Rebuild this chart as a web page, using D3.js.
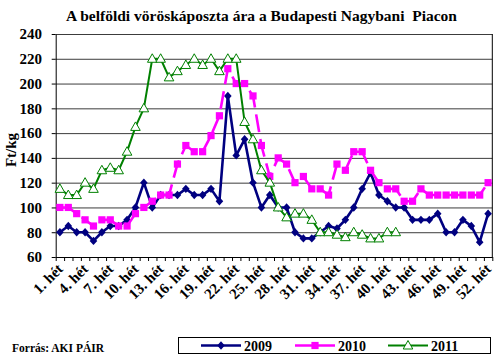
<!DOCTYPE html>
<html><head><meta charset="utf-8">
<script src="https://cdn.jsdelivr.net/npm/d3@7"></script>
<style>
html,body{margin:0;padding:0;background:#fff;}
svg{display:block;}
text{font-family:"Liberation Serif","Times New Roman",serif;font-weight:bold;fill:#000;}
</style>
</head><body>
<svg id="chart" width="500" height="357"></svg>
<script>
// ---- data ----
const weeks = d3.range(1, 53);
const xTickWeeks = [1,4,7,10,13,16,19,22,25,28,31,34,37,40,43,46,49,52];
const xTickLabels = ["1. hét","4. hét","7. hét","10. hét","13. hét","16. hét","19. hét","22. hét","25. hét","28. hét","31. hét","34. hét","37. hét","40. hét","43. hét","46. hét","49. hét","52. hét"];
const yTicks = [60,80,100,120,140,160,180,200,220,240];
const seriesNames = ["2009","2010","2011"];
const values2009 = [80,85,80,80,73,80,85,85,90,100,120,100,110,110,110,115,110,110,115,105,190,142,155,120,100,110,100,100,80,75,75,80,85,83,90,100,115,128,110,105,100,100,90,90,90,95,80,80,90,85,72,95];
const values2010 = [100,100,95,90,85,90,90,85,85,95,100,105,110,110,135,150,145,145,158,174,212,200,200,190,150,125,140,135,120,125,115,115,110,135,130,145,145,130,120,115,115,105,105,115,110,110,110,110,110,110,110,120];
const values2011 = [115,110,110,120,115,130,132,130,145,165,180,220,220,205,210,215,220,215,220,210,220,220,169,155,130,120,100,92,95,95,90,80,80,78,76,80,78,75,75,80,80,null,null,null,null,null,null,null,null,null,null,null];
const titleText = "A belföldi vöröskáposzta ára a Budapesti Nagybani  Piacon";
const yLabel = "Ft/kg";
const sourceText = "Forrás: AKI PÁIR";

// ---- layout ----
const svg = d3.select("#chart");
const M = {left:55.7, right:492.3, top:34, bottom:257};
const x = d3.scaleBand().domain(weeks).range([M.left, M.right]).padding(0);
const xEdge = d3.scaleLinear().domain([0, 52]).range([M.left, M.right]);
const y = d3.scaleLinear().domain([60, 240]).range([M.bottom, M.top]);
const cx = w => x(w) + x.bandwidth() / 2;
const FONT = '"Liberation Serif","Times New Roman",serif';

// title
svg.append("text").attr("x", 261.5).attr("y", 21).attr("text-anchor", "middle")
  .style("font-size", "15.5px").style("white-space","pre").text(titleText);

// gridlines
svg.append("g").attr("transform", `translate(${M.left},0)`)
  .call(d3.axisLeft(y).tickValues(yTicks).tickSize(-(M.right - M.left)).tickFormat(""))
  .call(g => g.select(".domain").remove())
  .call(g => g.selectAll("line").attr("stroke", "#3c3c3c"));

// right frame
svg.append("line").attr("x1", M.right).attr("x2", M.right).attr("y1", M.top).attr("y2", M.bottom)
  .attr("stroke", "#000");

// y axis
const yAx = svg.append("g").attr("transform", `translate(${M.left},0)`)
  .call(d3.axisLeft(y).tickValues(yTicks).tickSize(4).tickSizeOuter(0).tickPadding(9.7));
yAx.attr("font-family", FONT).attr("font-size", 15).attr("font-weight", "bold");
yAx.selectAll("line").attr("stroke", "#000");
yAx.select(".domain").attr("stroke", "#000");

// x axis (ticks at category boundaries)
const xAx = svg.append("g").attr("transform", `translate(0,${M.bottom})`)
  .call(d3.axisBottom(xEdge).tickValues(d3.range(0, 53)).tickSize(4).tickSizeOuter(0).tickFormat(""));
xAx.selectAll("line").attr("stroke", "#000");
xAx.select(".domain").attr("stroke", "#000");

// x labels
svg.append("g").selectAll("text").data(xTickWeeks).join("text")
  .attr("transform", (w) => `translate(${cx(w) + 4},${M.bottom + 13}) rotate(-45)`)
  .attr("text-anchor", "end").style("font-size", "15px")
  .text((w, i) => xTickLabels[i]);

// y label
svg.append("text").attr("transform", "translate(16,150) rotate(-90)")
  .attr("text-anchor", "middle").style("font-size", "15px").text(yLabel);

// series
const colors = {"2009":"#000080","2010":"#ff00ff","2011":"#008000"};
const lineGen = d3.line().defined(d => d.v != null).x(d => cx(d.w)).y(d => y(d.v));
const toPts = arr => weeks.map((w, i) => ({w, v: arr[i]}));

function marker(sel, name) {
  if (name === "2009") {
    sel.append("path").attr("d", "M0,-4.2L3.8,0L0,4.2L-3.8,0Z").attr("fill", colors[name]);
  } else if (name === "2010") {
    sel.append("rect").attr("x", -3.6).attr("y", -3.6).attr("width", 7.2).attr("height", 7.2).attr("fill", colors[name]);
  } else {
    sel.append("path").attr("d", "M0,-5L4.8,3.5L-4.8,3.5Z").attr("fill", "#fff").attr("stroke", colors[name]).attr("stroke-width", 1);
  }
}

const allSeries = [values2009, values2010, values2011];
allSeries.forEach((arr, si) => {
  const name = seriesNames[si];
  const pts = toPts(arr);
  const g = svg.append("g");
  g.append("path").attr("d", lineGen(pts)).attr("fill", "none")
    .attr("stroke", colors[name]).attr("stroke-width", name === "2011" ? 2 : 2.6)
    .attr("stroke-dasharray", name === "2010" ? "18,7" : null)
    .attr("stroke-linejoin", "round");
  pts.filter(d => d.v != null).forEach(d => {
    const m = g.append("g").attr("transform", `translate(${cx(d.w)},${y(d.v)})`);
    marker(m, name);
  });
});

// legend
const lg = svg.append("g");
lg.append("rect").attr("x", 178.5).attr("y", 337.5).attr("width", 312).attr("height", 16)
  .attr("fill", "#fff").attr("stroke", "#000");
const legX = [201, 295, 388];
seriesNames.forEach((name, i) => {
  const g = lg.append("g").attr("transform", `translate(${legX[i]},345.5)`);
  g.append("line").attr("x1", 0).attr("x2", 40).attr("stroke", colors[name]).attr("stroke-width", name === "2011" ? 2 : 2.5);
  const m = g.append("g").attr("transform", "translate(20,0)");
  marker(m, name);
  g.append("text").attr("x", 43).attr("y", 5).style("font-size", "14px").text(name);
});

// source
svg.append("text").attr("x", 12).attr("y", 352).style("font-size", "11.5px").text(sourceText);
</script>
</body></html>
